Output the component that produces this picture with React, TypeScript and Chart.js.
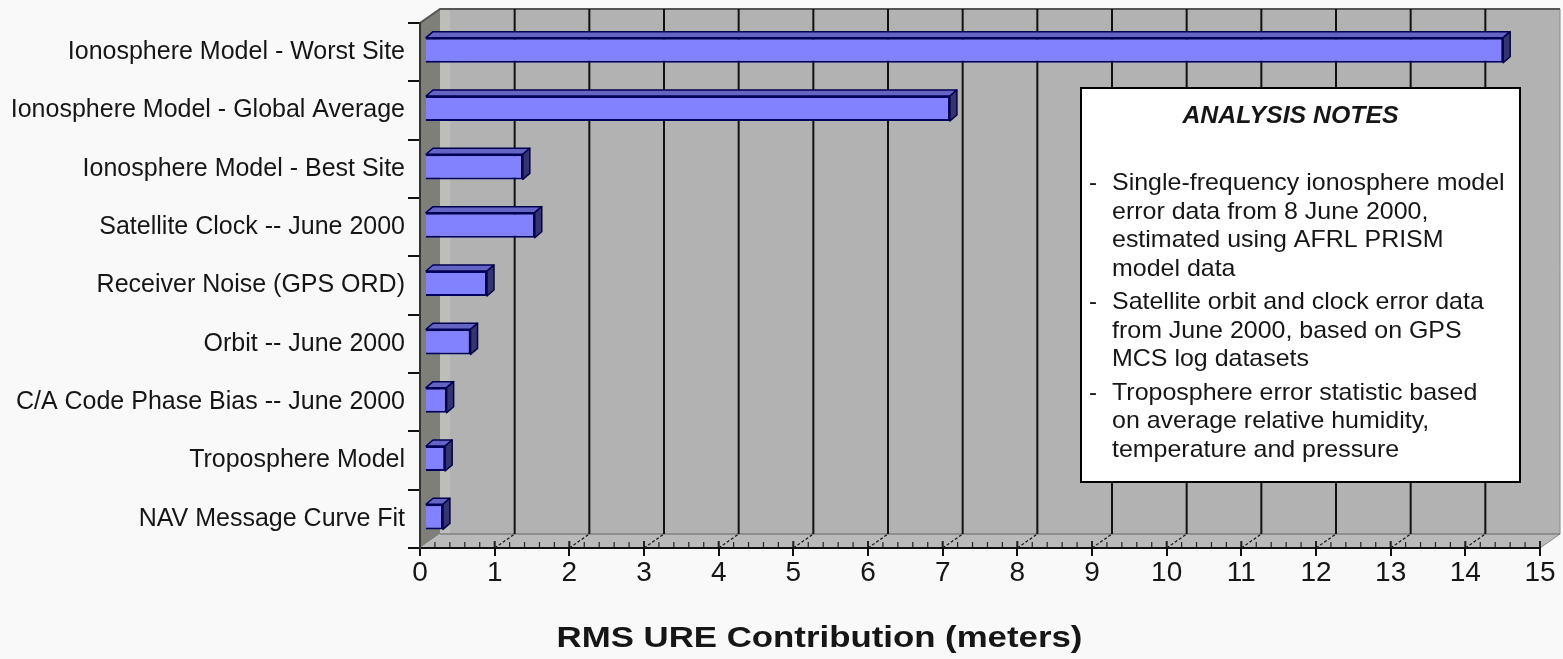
import React, { useEffect, useRef } from "react";
import { Chart, registerables } from "chart.js";

Chart.register(...registerables);

// ---- data ----
const categories: string[] = [
  "Ionosphere Model - Worst Site",
  "Ionosphere Model - Global Average",
  "Ionosphere Model - Best Site",
  "Satellite Clock -- June 2000",
  "Receiver Noise (GPS ORD)",
  "Orbit -- June 2000",
  "C/A Code Phase Bias -- June 2000",
  "Troposphere Model",
  "NAV Message Curve Fit",
];
const values: number[] = [14.44, 7.03, 1.31, 1.47, 0.83, 0.61, 0.29, 0.27, 0.24];
const xMin = 0;
const xMax = 15;
const xStep = 1;
const axisTitle = "RMS URE Contribution (meters)";
const notesTitle = "ANALYSIS NOTES";
const notes: string[][] = [
  [
    "Single-frequency ionosphere model",
    "error data from 8 June 2000,",
    "estimated using AFRL PRISM",
    "model data",
  ],
  [
    "Satellite orbit and clock error data",
    "from June 2000, based on GPS",
    "MCS log datasets",
  ],
  [
    "Troposphere error statistic based",
    "on average relative humidity,",
    "temperature and pressure",
  ],
];

// ---- style ----
const FONT = '"Liberation Sans", Arial, sans-serif';
const DEPTH_X = 20;
const DEPTH_Y = -14;
const BAR_DX = 7;
const BAR_DY = -6;
const BAR_SHIFT_X = 5;
const BAR_SHIFT_Y = -2;

const threeD = {
  id: "threeD",
  beforeDraw(chart: any) {
    const { ctx, chartArea, scales } = chart;
    const xs = scales.x;
    const { left, right, top, bottom } = chartArea;
    ctx.save();
    ctx.fillStyle = "#f8f9f8";
    ctx.fillRect(0, 0, chart.width, chart.height);
    // back wall
    ctx.fillStyle = "#b2b2b2";
    ctx.fillRect(left + DEPTH_X, top + DEPTH_Y, right - left, bottom - top);
    ctx.fillStyle = "#bebeb8";
    ctx.fillRect(left + DEPTH_X, top + DEPTH_Y, 10, bottom - top);
    // left side wall
    ctx.fillStyle = "#7e7f78";
    ctx.beginPath();
    ctx.moveTo(left, top);
    ctx.lineTo(left + DEPTH_X, top + DEPTH_Y);
    ctx.lineTo(left + DEPTH_X, bottom + DEPTH_Y);
    ctx.lineTo(left, bottom);
    ctx.closePath();
    ctx.fill();
    // floor
    ctx.fillStyle = "#bababa";
    ctx.beginPath();
    ctx.moveTo(left, bottom);
    ctx.lineTo(left + DEPTH_X, bottom + DEPTH_Y);
    ctx.lineTo(right + DEPTH_X, bottom + DEPTH_Y);
    ctx.lineTo(right, bottom);
    ctx.closePath();
    ctx.fill();
    ctx.strokeStyle = "#8a8a8a";
    ctx.lineWidth = 1;
    ctx.beginPath();
    ctx.moveTo(right + DEPTH_X, top + DEPTH_Y);
    ctx.lineTo(right + DEPTH_X, bottom + DEPTH_Y);
    ctx.lineTo(right, bottom);
    ctx.stroke();
    ctx.strokeStyle = "#555";
    ctx.lineWidth = 2;
    ctx.beginPath();
    ctx.moveTo(left, top);
    ctx.lineTo(left + DEPTH_X, top + DEPTH_Y);
    ctx.lineTo(right + DEPTH_X, top + DEPTH_Y);
    ctx.stroke();
    ctx.strokeStyle = "#666";
    ctx.lineWidth = 1;
    ctx.beginPath();
    ctx.moveTo(left + DEPTH_X, bottom + DEPTH_Y);
    ctx.lineTo(right + DEPTH_X, bottom + DEPTH_Y);
    ctx.stroke();
    for (let v = xMin + xStep; v <= xMax - xStep + 1e-9; v += xStep) {
      const px = xs.getPixelForValue(v);
      ctx.strokeStyle = "#111";
      ctx.lineWidth = 2;
      ctx.setLineDash([]);
      ctx.beginPath();
      ctx.moveTo(px + DEPTH_X, top + DEPTH_Y);
      ctx.lineTo(px + DEPTH_X, bottom + DEPTH_Y);
      ctx.stroke();
      ctx.lineWidth = 1.2;
      ctx.setLineDash([3, 2]);
      ctx.beginPath();
      ctx.moveTo(px, bottom);
      ctx.lineTo(px + DEPTH_X, bottom + DEPTH_Y);
      ctx.stroke();
    }
    ctx.setLineDash([]);
    ctx.strokeStyle = "#222";
    ctx.lineWidth = 1.2;
    for (let v = xMin; v <= xMax + 1e-9; v += xStep / 5) {
      const px = xs.getPixelForValue(v);
      ctx.beginPath();
      ctx.moveTo(px, bottom - 6);
      ctx.lineTo(px, bottom);
      ctx.stroke();
    }
    ctx.lineWidth = 2;
    for (let v = xMin; v <= xMax + 1e-9; v += xStep) {
      const px = xs.getPixelForValue(v);
      ctx.beginPath();
      ctx.moveTo(px, bottom - 7);
      ctx.lineTo(px, bottom);
      ctx.stroke();
    }
    ctx.restore();
  },
  beforeDatasetsDraw(chart: any) {
    const { ctx, chartArea } = chart;
    ctx.save();
    ctx.beginPath();
    ctx.rect(chartArea.left - 2, 0, chart.width, chart.height);
    ctx.clip();
    ctx.translate(BAR_SHIFT_X, BAR_SHIFT_Y);
  },
  afterDatasetsDraw(chart: any) {
    const { ctx } = chart;
    const meta = chart.getDatasetMeta(0);
    meta.data.forEach((bar: any) => {
      const { x, y, base, height } = bar.getProps(["x", "y", "base", "height"], true);
      const t = y - height / 2;
      const b = y + height / 2;
      ctx.lineWidth = 1.5;
      ctx.strokeStyle = "#000050";
      ctx.lineJoin = "round";
      ctx.fillStyle = "#6464c4";
      ctx.beginPath();
      ctx.moveTo(base, t);
      ctx.lineTo(base + BAR_DX, t + BAR_DY);
      ctx.lineTo(x + BAR_DX, t + BAR_DY);
      ctx.lineTo(x, t);
      ctx.closePath();
      ctx.fill();
      ctx.stroke();
      ctx.fillStyle = "#34346e";
      ctx.beginPath();
      ctx.moveTo(x, t);
      ctx.lineTo(x + BAR_DX, t + BAR_DY);
      ctx.lineTo(x + BAR_DX, b + BAR_DY);
      ctx.lineTo(x, b);
      ctx.closePath();
      ctx.fill();
      ctx.stroke();
    });
    ctx.restore();
  },
  afterDraw(chart: any) {
    const { ctx, chartArea, scales } = chart;
    ctx.save();
    const bx = 1081, by = 88, bw = 439, bh = 394;
    ctx.fillStyle = "#ffffff";
    ctx.fillRect(bx, by, bw, bh);
    ctx.strokeStyle = "#000";
    ctx.lineWidth = 2;
    ctx.strokeRect(bx, by, bw, bh);
    ctx.fillStyle = "#161616";
    ctx.textBaseline = "alphabetic";
    ctx.textAlign = "center";
    ctx.font = `italic bold 23px ${FONT}`;
    ctx.save();
    ctx.translate(bx + bw / 2 - 10, by + 35);
    ctx.scale(1.08, 1);
    ctx.fillText(notesTitle, 0, 0);
    ctx.restore();
    ctx.textAlign = "left";
    ctx.font = `24px ${FONT}`;
    let yy = by + 102;
    notes.forEach((group) => {
      group.forEach((line, i) => {
        if (i === 0) ctx.fillText("-", bx + 8, yy);
        ctx.save();
        ctx.translate(bx + 31, yy);
        ctx.scale(1.04, 1);
        ctx.fillText(line, 0, 0);
        ctx.restore();
        yy += 28.5;
      });
      yy += 5;
    });
    ctx.font = `bold 29px ${FONT}`;
    ctx.textAlign = "center";
    const xs = scales.x;
    ctx.save();
    ctx.translate(xs.getPixelForValue(5.35), chartArea.bottom + 99);
    ctx.scale(1.2, 1);
    ctx.fillText(axisTitle, 0, 0);
    ctx.restore();
    ctx.restore();
  },
};

export default function App() {
  const ref = useRef<HTMLCanvasElement | null>(null);
  useEffect(() => {
    if (!ref.current) return;
    const chart = new Chart(ref.current, {
      type: "bar",
      data: {
        labels: categories,
        datasets: [
          {
            data: values,
            backgroundColor: "#8282ff",
            borderColor: "#000060",
            borderWidth: 2,
            barPercentage: 0.43,
            categoryPercentage: 1,
          },
        ],
      },
      options: {
        indexAxis: "y",
        responsive: false,
        animation: false,
        events: [],
        layout: { padding: { top: 23, right: 23, bottom: 0, left: 0 } },
        plugins: { legend: { display: false }, tooltip: { enabled: false }, title: { display: false } },
        scales: {
          x: {
            type: "linear",
            min: xMin,
            max: xMax,
            ticks: {
              stepSize: xStep,
              color: "#161616",
              font: { family: FONT, size: 28 },
              padding: 0,
            },
            grid: {
              display: true,
              drawOnChartArea: false,
              drawTicks: true,
              tickLength: 8,
              color: "#111",
              lineWidth: 2,
            },
            border: { display: true, color: "#111", width: 2 },
            afterFit: (s: any) => {
              s.height = 111;
            },
          },
          y: {
            type: "category",
            ticks: {
              color: "#161616",
              font: { family: FONT, size: 25 },
              padding: 3,
            },
            grid: {
              display: true,
              drawOnChartArea: false,
              drawTicks: true,
              tickLength: 12,
              color: "#111",
              lineWidth: 2,
              offset: true,
            },
            border: { display: true, color: "#333", width: 2 },
            afterFit: (s: any) => {
              s.width = 420;
            },
          },
        },
      },
      plugins: [threeD],
    });
    return () => chart.destroy();
  }, []);
  return (
    <div style={{ position: "fixed", left: 0, top: 0, width: 1563, height: 659, background: "#f8f9f8" }}>
      <canvas ref={ref} width={1563} height={659} style={{ display: "block" }} />
    </div>
  );
}
